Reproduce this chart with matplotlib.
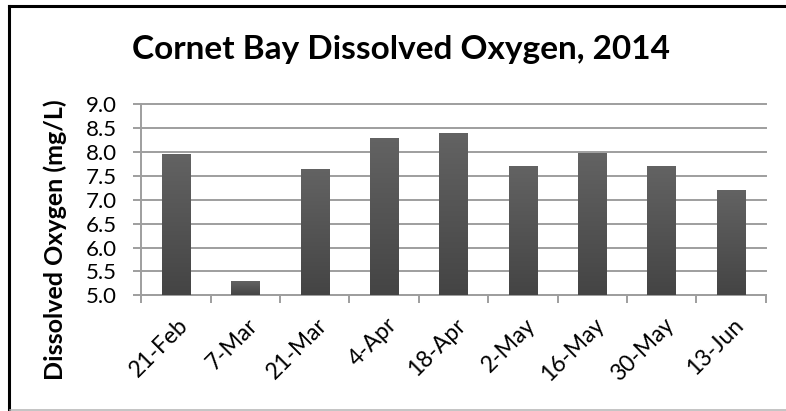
import numpy as np
import matplotlib
matplotlib.use("Agg")
import matplotlib.pyplot as plt
from matplotlib.colors import LinearSegmentedColormap
from matplotlib.lines import Line2D
from matplotlib.transforms import ScaledTranslation

# Sampling dates and dissolved oxygen readings (mg/L)
dates = ["21-Feb", "7-Mar", "21-Mar", "4-Apr", "18-Apr", "2-May", "16-May", "30-May", "13-Jun"]
oxygen = [7.97, 5.29, 7.65, 8.30, 8.40, 7.71, 7.99, 7.71, 7.21]
y_ticks = [5.0, 5.5, 6.0, 6.5, 7.0, 7.5, 8.0, 8.5, 9.0]

title = "Cornet Bay Dissolved Oxygen, 2014"
y_label = "Dissolved Oxygen (mg/L)"

plt.rcParams["font.family"] = ["Lato", "DejaVu Sans"]

W, H = 786, 411
fig = plt.figure(figsize=(W / 100, H / 100), dpi=100)
fig.patch.set_facecolor("white")

left, right, top, bottom = 141.3, 765.7, 104.5, 295.3
ax = fig.add_axes([left / W, 1 - bottom / H, (right - left) / W, (bottom - top) / H])

grid_col = "#9e9e9e"
ymin, ymax = y_ticks[0], y_ticks[-1]
x = np.arange(len(dates))

bars = ax.bar(x, oxygen, width=0.41, color="#555555", zorder=3)
shade = LinearSegmentedColormap.from_list("shade", ["#444444", "#636363"])
grad = np.linspace(0, 1, 256).reshape(-1, 1)
for b in bars:
    x0 = b.get_x()
    im = ax.imshow(grad, extent=[x0, x0 + b.get_width(), ymin, b.get_height()],
                   aspect="auto", cmap=shade, origin="lower", zorder=4)
    im.set_clip_path(b)

ax.set_xlim(-0.5, len(dates) - 0.5)
ax.set_ylim(ymin, ymax)

ax.set_yticks(y_ticks)
ax.set_yticklabels([f"{v:.1f}" for v in y_ticks])
ax.yaxis.grid(True, color=grid_col, linewidth=1.4, zorder=1)
for gl in ax.get_ygridlines():
    gl.set_clip_on(False)
ax.set_axisbelow(True)

ax.set_xticks(x)
ax.set_xticklabels(dates, rotation=45, ha="right", va="center", rotation_mode="anchor")
ax.set_xticks(np.arange(-0.5, len(dates)), minor=True)
ax.tick_params(axis="x", which="major", length=0, pad=19, labelsize=16.5)
ax.tick_params(axis="x", which="minor", length=5.8, width=1.4, color=grid_col, direction="out")
ax.tick_params(axis="y", length=5.8, width=1.4, color=grid_col, direction="out", pad=12, labelsize=16)
shift = ScaledTranslation(9 / 100, 0, fig.dpi_scale_trans)
for lbl in ax.get_xticklabels():
    lbl.set_transform(lbl.get_transform() + shift)

for s in ("top", "right"):
    ax.spines[s].set_visible(False)
for s in ("left", "bottom"):
    ax.spines[s].set_color(grid_col)
    ax.spines[s].set_linewidth(1.4)

fig.text(401 / W, 1 - 49 / H, title, ha="center", va="center", fontsize=24, fontweight="bold")
fig.text(55 / W, 1 - 240 / H, y_label, ha="center", va="center", rotation=90,
         fontsize=18, fontweight="bold")

# Frame around the chart
fig.add_artist(Line2D([8.8 / W, 8.8 / W], [0, 1 - 6 / H], color="black", linewidth=2.2,
                      transform=fig.transFigure, solid_capstyle="projecting"))
fig.add_artist(Line2D([8.8 / W, 1], [1 - 6 / H, 1 - 6 / H], color="black", linewidth=2.2,
                      transform=fig.transFigure, solid_capstyle="projecting"))
fig.add_artist(Line2D([10 / W, 1], [1 - 409.7 / H, 1 - 409.7 / H], color="#b4b4b4",
                      linewidth=1.1, transform=fig.transFigure))

fig.savefig("out.png", dpi=100)
